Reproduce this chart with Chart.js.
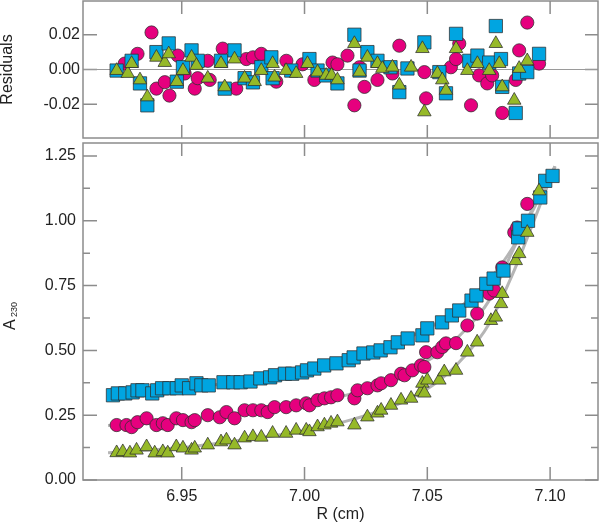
<!DOCTYPE html>
<html>
<head>
<meta charset="utf-8">
<script src="https://cdn.jsdelivr.net/npm/chart.js@4.4.1/dist/chart.umd.min.js"></script>
<style>
html, body { margin: 0; padding: 0; background: #fff; }
#wrap { position: relative; width: 600px; height: 524px; }
#resid { position: absolute; left: 0; top: 0; }
#main { position: absolute; left: 0; top: 140px; }
</style>
</head>
<body>
<div id="wrap">
  <canvas id="resid" width="600" height="140"></canvas>
  <canvas id="main" width="600" height="384"></canvas>
</div>
<script>
// A230 vs radius, three data sets + fits, residuals on top

const xTicks = [6.95, 7.00, 7.05, 7.10];
const yTicks = [0, 0.25, 0.50, 0.75, 1.00, 1.25];
const yMinorTicks = [0.125, 0.375, 0.625, 0.875, 1.125];
const residTicks = [-0.02, 0, 0.02];

// blue squares
const blueR = [6.922, 6.924, 6.927, 6.930, 6.932, 6.934, 6.938, 6.940, 6.942, 6.945, 6.948, 6.950, 6.953, 6.956,
  6.958, 6.961, 6.967, 6.971, 6.974, 6.978, 6.982, 6.986, 6.988, 6.992, 6.995, 6.999, 7.001, 7.004, 7.008, 7.013,
  7.018, 7.020, 7.024, 7.028, 7.031, 7.035, 7.038, 7.042, 7.048, 7.050, 7.056, 7.060, 7.063, 7.068, 7.070, 7.074,
  7.077, 7.081, 7.087, 7.0875, 7.091, 7.096, 7.098, 7.101];
const blueA = [0.327, 0.334, 0.334, 0.338, 0.346, 0.346, 0.334, 0.346, 0.354, 0.354, 0.354, 0.365, 0.354, 0.373,
  0.365, 0.365, 0.377, 0.377, 0.377, 0.380, 0.392, 0.396, 0.404, 0.410, 0.410, 0.415, 0.423, 0.430, 0.442, 0.450,
  0.462, 0.473, 0.488, 0.492, 0.500, 0.512, 0.531, 0.546, 0.558, 0.585, 0.608, 0.635, 0.654, 0.692, 0.712, 0.757,
  0.777, 0.808, 0.936, 0.970, 1.000, 1.090, 1.154, 1.173];

// pink circles
const pinkR = [6.9235, 6.9275, 6.9296, 6.932, 6.9357, 6.9397, 6.9423, 6.9443, 6.9478, 6.9505, 6.954, 6.9553, 6.9606,
  6.9655, 6.9682, 6.9715, 6.9756, 6.979, 6.9824, 6.985, 6.9878, 6.9925, 6.9966, 7.0007, 7.002, 7.0053, 7.0081,
  7.0108, 7.0134, 7.0203, 7.0216, 7.0256, 7.0297, 7.0312, 7.0352, 7.0393, 7.0407, 7.0439, 7.0474, 7.0488, 7.0495,
  7.0541, 7.0561, 7.0576, 7.0617, 7.0663, 7.0703, 7.0752, 7.0772, 7.0805, 7.0854, 7.0866, 7.0907];
const pinkA = [0.212, 0.212, 0.204, 0.223, 0.238, 0.212, 0.219, 0.212, 0.238, 0.231, 0.223, 0.231, 0.250,
  0.242, 0.262, 0.238, 0.269, 0.269, 0.269, 0.262, 0.281, 0.281, 0.288, 0.296, 0.288, 0.308, 0.315,
  0.319, 0.327, 0.315, 0.346, 0.354, 0.365, 0.373, 0.385, 0.410, 0.404, 0.423, 0.442, 0.436, 0.493,
  0.493, 0.513, 0.527, 0.528, 0.596, 0.642, 0.719, 0.731, 0.820, 0.955, 0.974, 1.065];

// green triangles
const greenR = [6.9235, 6.926, 6.9289, 6.9316, 6.9357, 6.939, 6.9423, 6.9443, 6.9478, 6.9505, 6.954, 6.9553, 6.9606,
  6.966, 6.9682, 6.9715, 6.9756, 6.979, 6.9824, 6.987, 6.9925, 6.9966, 7.0007, 7.002, 7.0053, 7.0081, 7.0108,
  7.0134, 7.0203, 7.0256, 7.0297, 7.0312, 7.0352, 7.0393, 7.0434, 7.0474, 7.048, 7.0488, 7.050, 7.0549, 7.0569,
  7.0617, 7.0663, 7.0703, 7.0759, 7.0779, 7.080, 7.0805, 7.086, 7.0874, 7.0907, 7.0955];
const greenA = [0.105, 0.109, 0.104, 0.115, 0.128, 0.104, 0.109, 0.104, 0.128, 0.123, 0.115, 0.123, 0.135,
  0.147, 0.154, 0.135, 0.162, 0.167, 0.165, 0.180, 0.180, 0.192, 0.192, 0.186, 0.205, 0.212, 0.219,
  0.224, 0.212, 0.243, 0.258, 0.269, 0.288, 0.308, 0.315, 0.340, 0.373, 0.335, 0.385, 0.385, 0.417,
  0.423, 0.493, 0.532, 0.615, 0.628, 0.680, 0.719, 0.846, 0.873, 0.955, 1.115];

// fitted curves (grey)
const fitR = [6.92, 6.95, 6.975, 7.00, 7.02, 7.04, 7.055, 7.065, 7.075, 7.085, 7.093, 7.102];
const blueFit = [0.33, 0.355, 0.38, 0.415, 0.465, 0.54, 0.61, 0.68, 0.77, 0.90, 1.04, 1.21];
const pinkFit = [0.21, 0.23, 0.26, 0.295, 0.335, 0.41, 0.49, 0.575, 0.69, 0.89, 1.05, 1.21];
const greenFit = [0.105, 0.125, 0.155, 0.19, 0.235, 0.30, 0.385, 0.475, 0.60, 0.80, 0.99, 1.21];

// residuals
const blueResR = [6.9235, 6.9296, 6.933, 6.936, 6.9397, 6.9447, 6.948, 6.9505, 6.954, 6.9565, 6.966, 6.9675, 6.9715,
  6.9756, 6.979, 6.9824, 6.9865, 6.987, 6.9946, 7.002, 7.0053, 7.0088, 7.0134, 7.0203, 7.0224, 7.0256, 7.0297,
  7.035, 7.0386, 7.0419, 7.0488, 7.0549, 7.0576, 7.0617, 7.0671, 7.0704, 7.0752, 7.0779, 7.080, 7.0805, 7.086,
  7.0874, 7.0907, 7.0955];
const blueRes = [-0.0006, 0.005, -0.008, -0.0206, 0.010, 0.015, -0.007, 0.0013, 0.011, 0.005, 0.005, -0.011, 0.011,
  -0.005, -0.0074, 0.0013, 0.007, -0.005, -0.0006, 0.006, -0.0006, -0.0034, -0.008, 0.020, -0.0006, 0.010, 0.005,
  0.0013, -0.013, 0.0006, 0.0156, -0.0015, -0.0137, 0.0205, 0.005, 0.008, 0.004, 0.025, 0.006, -0.010, -0.025,
  -0.0023, -0.0015, 0.009];

const pinkResR = [6.9268, 6.932, 6.9377, 6.9397, 6.9431, 6.945, 6.9484, 6.9512, 6.9553, 6.9565, 6.9606, 6.9614,
  6.9667, 6.9722, 6.9763, 6.979, 6.9824, 6.9885, 6.9926, 6.9992, 7.004, 7.0114, 7.0134, 7.0175, 7.0203, 7.0224,
  7.0244, 7.0297, 7.0358, 7.0386, 7.0488, 7.0495, 7.0596, 7.0617, 7.063, 7.0678, 7.0711, 7.0744, 7.0764, 7.0805,
  7.086, 7.0874, 7.0907, 7.0955];
const pinkRes = [0.0034, 0.009, 0.0213, -0.011, -0.0073, -0.015, 0.008, -0.0023, -0.011, -0.005, 0.005, -0.006,
  0.012, -0.011, 0.006, 0.007, 0.009, -0.007, 0.005, 0.003, -0.006, 0.004, 0.003, 0.008, -0.0206, 0.0013,
  -0.010, -0.006, -0.0023, 0.0137, -0.0015, -0.0166, 0.0013, 0.006, 0.0149, -0.0206, -0.0034, -0.008, -0.0034, -0.025,
  -0.006, 0.011, 0.027, 0.0034];

const greenResR = [6.9235, 6.928, 6.9296, 6.933, 6.936, 6.9397, 6.9431, 6.9447, 6.948, 6.9505, 6.954, 6.956, 6.9606,
  6.966, 6.9675, 6.9715, 6.9756, 6.9797, 6.9824, 6.987, 6.9878, 6.9925, 6.9966, 7.0012, 7.0053, 7.0088, 7.011,
  7.0134, 7.0203, 7.0224, 7.0256, 7.0297, 7.0317, 7.0358, 7.0386, 7.0434, 7.048, 7.0488, 7.0541, 7.0561, 7.0576,
  7.0617, 7.0663, 7.0704, 7.0752, 7.0779, 7.0793, 7.0805, 7.0854, 7.0874, 7.0907];
const greenRes = [-0.0006, -0.0023, 0.0034, -0.006, -0.0158, 0.007, 0.004, 0.009, -0.007, -0.0006, 0.007, 0.0023, -0.005,
  0.0034, -0.010, 0.006, -0.005, -0.007, -0.0006, 0.0034, -0.0044, -0.0006, -0.0023, 0.0034, -0.0015, -0.0034, -0.0034,
  -0.006, 0.0149, -0.0015, 0.007, 0.0034, 0.0006, 0.0013, -0.009, 0.0013, 0.012, -0.0244, -0.0023, -0.006, -0.012,
  0.012, -0.0006, 0.0034, -0.0006, 0.0149, 0.0034, -0.010, -0.0177, 0.0006, 0.005];

const xMin = 6.9098, xMax = 7.1195;

Chart.defaults.font.family = "'Liberation Sans', Arial, sans-serif";
Chart.defaults.font.size = 16;
Chart.defaults.color = '#222';
Chart.defaults.animation = false;

const PINK = '#e6007e', BLUE = '#00a5e1', GREEN = '#96b928';
const EDGE = 'rgba(45,45,45,0.75)';

function pts(xs, ys) {
  return xs.map((x, i) => ({x: x, y: ys[i]}));
}

function markerSet(xs, ys, color, style, r) {
  return {
    data: pts(xs, ys),
    backgroundColor: color,
    borderColor: EDGE,
    borderWidth: 1,
    pointStyle: style,
    pointRadius: r,
    showLine: false
  };
}

function fitSet(ys) {
  return {
    data: pts(fitR, ys),
    showLine: true,
    borderColor: '#b5b5b5',
    borderWidth: 3,
    pointRadius: 0,
    cubicInterpolationMode: 'monotone'
  };
}

// keep the plot box where it is in the original: no automatic label padding
function noPad(axis) {
  axis.paddingTop = 0;
  axis.paddingBottom = 0;
  axis.paddingLeft = 0;
  axis.paddingRight = 0;
}

// box + inward tick marks drawn from the scales
function framePlugin(cfg) {
  return {
    id: 'frame',
    beforeDatasetsDraw(chart) {
      const ctx = chart.ctx, a = chart.chartArea;
      const sx = chart.scales.x, sy = chart.scales.y;
      ctx.save();
      ctx.strokeStyle = '#8c8c8c';
      ctx.lineWidth = 1.5;
      ctx.beginPath();
      xTicks.forEach(v => {
        const px = sx.getPixelForValue(v);
        ctx.moveTo(px, a.bottom); ctx.lineTo(px, a.bottom - 13);
        ctx.moveTo(px, a.top); ctx.lineTo(px, a.top + 13);
      });
      cfg.yMajor.forEach(v => {
        const py = sy.getPixelForValue(v);
        ctx.moveTo(a.left, py); ctx.lineTo(a.left + 14, py);
        ctx.moveTo(a.right, py); ctx.lineTo(a.right - 13, py);
      });
      cfg.yMinor.forEach(v => {
        const py = sy.getPixelForValue(v);
        ctx.moveTo(a.left, py); ctx.lineTo(a.left + 7, py);
        ctx.moveTo(a.right, py); ctx.lineTo(a.right - 7, py);
      });
      ctx.stroke();
      if (cfg.zeroLine) {
        const py0 = sy.getPixelForValue(0);
        ctx.lineWidth = 1;
        ctx.strokeStyle = '#9a9a9a';
        ctx.beginPath();
        ctx.moveTo(a.left, py0); ctx.lineTo(a.right, py0);
        ctx.stroke();
      }
      ctx.lineWidth = 1.5;
      ctx.strokeStyle = '#8c8c8c';
      ctx.strokeRect(a.left, a.top, a.right - a.left, a.bottom - a.top);
      ctx.restore();
    }
  };
}

// y title with subscript: A_230
const subTitle = {
  id: 'subTitle',
  afterDraw(chart) {
    const ctx = chart.ctx;
    ctx.save();
    ctx.translate(15, 190);
    ctx.rotate(-Math.PI / 2);
    ctx.fillStyle = '#222';
    ctx.textBaseline = 'alphabetic';
    ctx.textAlign = 'left';
    ctx.font = "16px 'Liberation Sans', Arial, sans-serif";
    ctx.fillText('A', 0, 0);
    ctx.font = "9px 'Liberation Sans', Arial, sans-serif";
    ctx.fillText('230', 13, 2);
    ctx.restore();
  }
};

new Chart(document.getElementById('resid'), {
  type: 'scatter',
  data: {
    datasets: [
      markerSet(greenResR, greenRes, GREEN, 'triangle', 7.8),
      markerSet(blueResR, blueRes, BLUE, 'rect', 9.4),
      markerSet(pinkResR, pinkRes, PINK, 'circle', 6.6)
    ]
  },
  options: {
    responsive: false,
    events: [],
    layout: {autoPadding: false, padding: {left: 0, top: 1, right: 2, bottom: 2}},
    plugins: {legend: {display: false}, tooltip: {enabled: false}},
    scales: {
      x: {type: 'linear', min: xMin, max: xMax, display: false},
      y: {
        type: 'linear', min: -0.0394, max: 0.0394,
        afterBuildTicks: axis => { axis.ticks = residTicks.map(v => ({value: v})); },
        afterFit: axis => { axis.width = 83; noPad(axis); },
        ticks: {padding: 3, callback: v => v.toFixed(2)},
        grid: {display: false, drawTicks: false},
        border: {display: false},
        title: {display: true, text: 'Residuals', padding: 0, font: {size: 16, lineHeight: 1}}
      }
    }
  },
  plugins: [framePlugin({yMajor: residTicks, yMinor: [], zeroLine: true})]
});

new Chart(document.getElementById('main'), {
  type: 'scatter',
  data: {
    datasets: [
      markerSet(greenR, greenA, GREEN, 'triangle', 7.8),
      markerSet(blueR, blueA, BLUE, 'rect', 9.4),
      markerSet(pinkR, pinkA, PINK, 'circle', 6.6),
      fitSet(blueFit),
      fitSet(pinkFit),
      fitSet(greenFit)
    ]
  },
  options: {
    responsive: false,
    events: [],
    layout: {autoPadding: false, padding: {left: 0, top: 3, right: 2, bottom: 0}},
    plugins: {legend: {display: false}, tooltip: {enabled: false}},
    scales: {
      x: {
        type: 'linear', min: xMin, max: xMax,
        afterBuildTicks: axis => { axis.ticks = xTicks.map(v => ({value: v})); },
        afterFit: axis => { axis.height = 44; noPad(axis); },
        ticks: {padding: 7, maxRotation: 0, autoSkip: false, callback: v => v.toFixed(2)},
        grid: {display: false, drawTicks: false},
        border: {display: false},
        title: {display: true, text: 'R (cm)', padding: 0, font: {size: 16}}
      },
      y: {
        type: 'linear', min: 0, max: 1.30,
        afterBuildTicks: axis => { axis.ticks = yTicks.map(v => ({value: v})); },
        afterFit: axis => { axis.width = 83; noPad(axis); },
        ticks: {padding: 7, callback: v => v.toFixed(2)},
        grid: {display: false, drawTicks: false},
        border: {display: false}
      }
    }
  },
  plugins: [framePlugin({yMajor: yTicks, yMinor: yMinorTicks, zeroLine: false}), subTitle]
});
</script>
</body>
</html>
